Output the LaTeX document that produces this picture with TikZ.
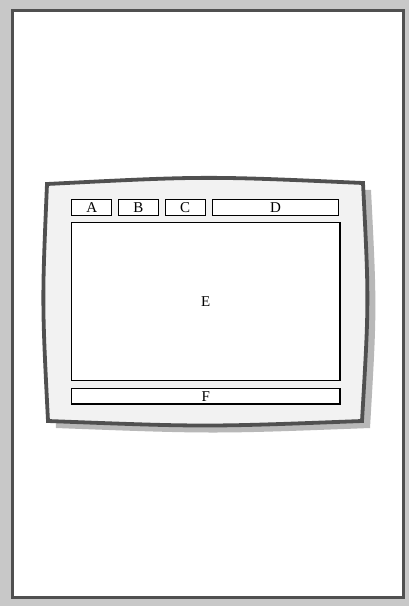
\documentclass[tikz,border=0pt]{standalone}
\usepackage{fontspec}
\setmainfont{Liberation Serif}
\definecolor{bggray}{HTML}{C8C8C8}
\definecolor{framegray}{HTML}{505050}
\definecolor{panelfill}{HTML}{F2F2F2}
\definecolor{shadowgray}{HTML}{B8B8B8}
\begin{document}
\begin{tikzpicture}[x=1pt,y=-1pt,
  cell/.style={draw=black, fill=white, line width=1.2pt, inner sep=0pt, anchor=center,
    minimum height=15.5pt, font=\fontsize{15}{18}\selectfont},
]
\useasboundingbox (0,0) rectangle (409,606);
\fill[bggray] (0,0) rectangle (409,606);
\draw[framegray, line width=3pt, fill=white] (12.5,10.5) rectangle (403.5,597.5);
% shadow
\fill[shadowgray, shift={(8,7)}]
  (47,184) .. controls (205,176) .. (363,183)
  .. controls (369,302) .. (362,421)
  .. controls (205,427) .. (48,421)
  .. controls (42,302) .. cycle;
% panel
\draw[framegray, line width=3.8pt, fill=panelfill, line join=miter]
  (47,184) .. controls (205,176) .. (363,183)
  .. controls (369,302) .. (362,421)
  .. controls (205,427) .. (48,421)
  .. controls (42,302) .. cycle;
\node[cell, minimum width=40pt] (a) at (91.7,207.5) {A};
\node[cell, minimum width=40pt] (b) at (138.3,207.5) {B};
\node[cell, minimum width=40pt] (c) at (185.2,207.5) {C};
\node[cell, minimum width=125.6pt] (d) at (275.6,207.5) {D};
\node[cell, minimum width=268.4pt, minimum height=157.6pt] (e) at (205.8,301.3) {E};
\node[cell, minimum width=268.4pt] (f) at (205.8,396.2) {F};
\end{tikzpicture}
\end{document}
